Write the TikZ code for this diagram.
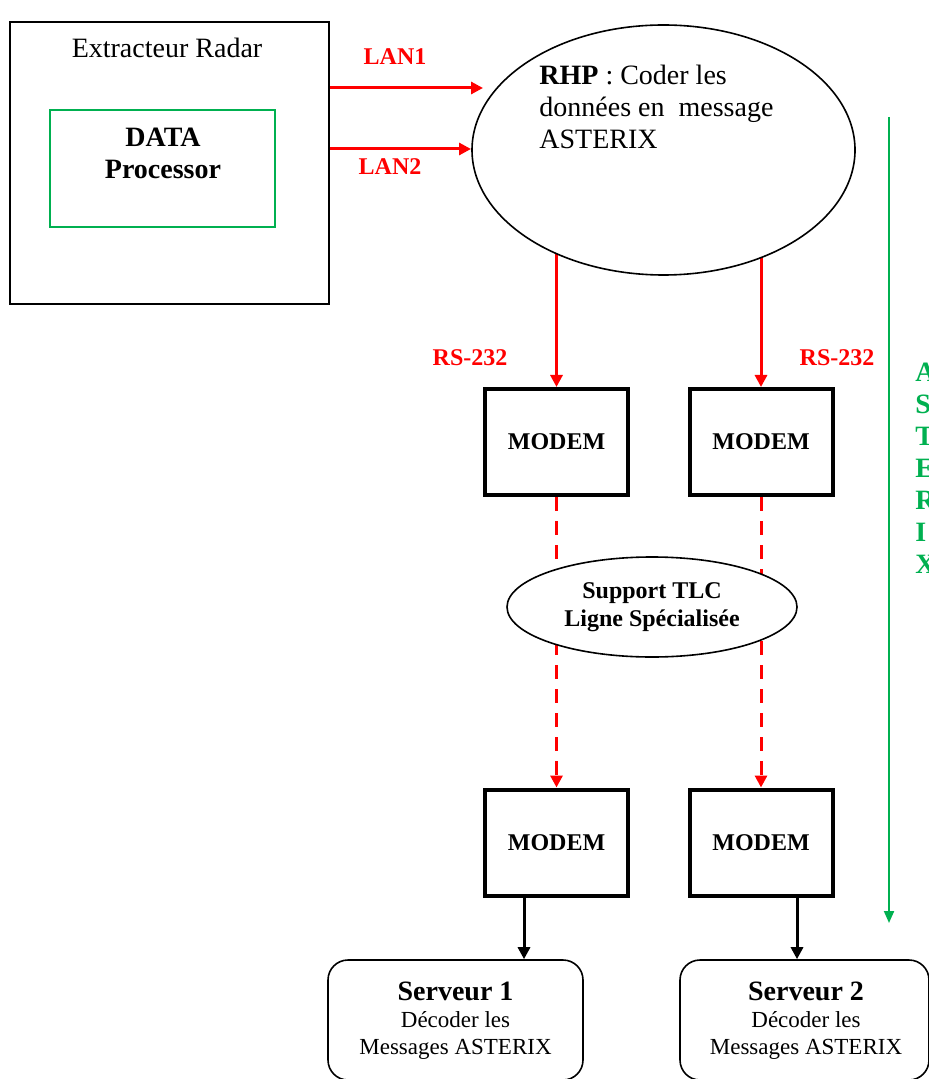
\documentclass[tikz,border=0pt]{standalone}
\usepackage{fontspec}
\setmainfont{Liberation Serif}
\usetikzlibrary{shapes.geometric,arrows.meta,backgrounds}
\definecolor{myred}{HTML}{FF0000}
\definecolor{mygreen}{HTML}{00B050}
\begin{document}
\begin{tikzpicture}[x=0.5pt,y=-0.5pt,
  plainbox/.style={draw,rectangle,inner sep=0pt},
  modem/.style={draw,line width=2pt,rectangle,minimum width=71.5pt,minimum height=53pt,inner sep=0pt,font=\fontsize{12}{14}\selectfont\bfseries},
  server/.style={draw,line width=0.8pt,rectangle,rounded corners=10pt,inner sep=0pt,align=center},
  redarr/.style={draw=myred,line width=1.5pt,-{Triangle[length=6pt,width=6pt]}},
  reddash/.style={draw=myred,line width=1.5pt,dash pattern=on 7pt off 5pt,-{Triangle[length=6pt,width=6pt]}},
  blackarr/.style={draw=black,line width=1.5pt,-{Triangle[length=6pt,width=6pt]}},
  greenarr/.style={draw=mygreen,line width=1pt,-{Triangle[length=6pt,width=5pt]}},
  redlbl/.style={text=myred,font=\fontsize{12}{14}\selectfont\bfseries,inner sep=0pt},
  txt/.style={inner sep=0pt,font=\fontsize{14}{16}\selectfont}
]
\useasboundingbox (0,0) rectangle (928,1079);

% Extracteur Radar
\node[plainbox,line width=1pt,minimum width=159.5pt,minimum height=141pt] (ext) at (169.5,163) {};
\node[txt] (extlbl) at (167,48) {Extracteur Radar};
\node[plainbox,draw=mygreen,line width=0.8pt,minimum width=112.5pt,minimum height=58.5pt] (dp) at (162.5,168.5) {};
\node[txt,font=\fontsize{14}{16}\selectfont\bfseries,align=center] (dptxt) at (163,153) {DATA\\Processor};

% RHP ellipse
\node[draw,ellipse,line width=0.8pt,fill=white,minimum width=191.5pt,minimum height=125pt,inner sep=0pt] (rhp) at (663.5,150) {};
\node[txt,align=left,anchor=west] (rhptxt) at (539,107) {\textbf{RHP} : Coder les\\données en~ message\\ASTERIX};

% LAN arrows
\coordinate (lan1s) at (329,88);
\coordinate (lan1e) at (483,88);
\coordinate (lan2s) at (329,149);
\coordinate (lan2e) at (471,149);
\draw[redarr] (ext.east |- lan1s) -- (lan1e);
\draw[redarr] (ext.east |- lan2s) -- (lan2e);
\node[redlbl] (lan1lbl) at (395,57) {LAN1};
\node[redlbl] (lan2lbl) at (390,167) {LAN2};

% Modems
\node[modem] (m1) at (556.5,442) {MODEM};
\node[modem] (m2) at (761,442) {MODEM};
\node[modem] (m3) at (556.5,842.5) {MODEM};
\node[modem] (m4) at (761,842.5) {MODEM};

% Support TLC ellipse
\node[draw,ellipse,line width=0.8pt,fill=white,minimum width=145pt,minimum height=50pt,inner sep=0pt,align=center,font=\fontsize{12}{14}\selectfont\bfseries] (tlc) at (652,607) {Support TLC\\Ligne Spécialisée};

\begin{scope}[on background layer]
  \draw[redarr] (m1.north |- rhp.center) -- (m1.north);
  \draw[redarr] (m2.north |- rhp.center) -- (m2.north);
  \draw[reddash] (m1.south) -- (m3.north);
  \draw[reddash] (m2.south) -- (m4.north);
\end{scope}

\node[redlbl] (rs1) at (470,358) {RS-232};
\node[redlbl] (rs2) at (837,358) {RS-232};

% Servers
\node[server,minimum width=127.5pt,minimum height=60pt] (s1) at (455.5,1020) {};
\node[server,minimum width=124.5pt,minimum height=60pt] (s2) at (804.5,1020) {};
\node[inner sep=0pt,align=center,font=\fontsize{11.5}{13.5}\selectfont] (s1txt) at (455.5,1021) {{\fontsize{14}{16}\selectfont\bfseries Serveur 1}\\Décoder les\\Messages ASTERIX};
\node[inner sep=0pt,align=center,font=\fontsize{11.5}{13.5}\selectfont] (s2txt) at (806,1021) {{\fontsize{14}{16}\selectfont\bfseries Serveur 2}\\Décoder les\\Messages ASTERIX};

\coordinate (b1) at (524,0);
\coordinate (b2) at (797,0);
\draw[blackarr] (m3.south -| b1) -- (s1.north -| b1);
\draw[blackarr] (m4.south -| b2) -- (s2.north -| b2);

% Green arrow and vertical text
\coordinate (g1) at (889,117);
\coordinate (g2) at (889,923);
\draw[greenarr] (g1) -- (g2);
\node[inner sep=0pt,anchor=west,align=left,text=mygreen,font=\fontsize{14}{16}\selectfont\bfseries] (gtxt) at (915,468) {A\\S\\T\\E\\R\\I\\X};
\end{tikzpicture}
\end{document}
